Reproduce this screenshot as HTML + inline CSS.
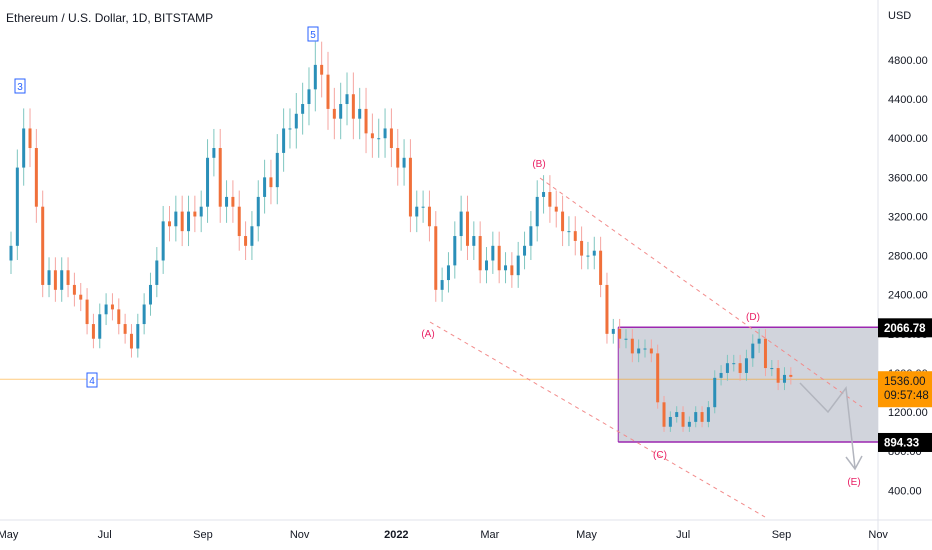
<!DOCTYPE html>
<html><head><meta charset="utf-8"><style>
body{margin:0;background:#fff;width:932px;height:550px;overflow:hidden;font-family:"Liberation Sans",sans-serif}
svg{display:block}
</style></head><body>
<svg id="chart" width="932" height="550">
<text x="6" y="22" font-size="12" fill="#131722">Ethereum / U.S. Dollar, 1D, BITSTAMP</text>
<line x1="878" y1="0" x2="878" y2="550" stroke="#e0e3eb"/>
<line x1="0" y1="520" x2="932" y2="520" stroke="#e0e3eb"/>
<text x="888" y="19" font-size="11" fill="#131722">USD</text>
<g id="yticks"></g><g id="xticks"></g>
<g id="box"></g>
<g id="candles"></g>
<g id="ann"></g>
</svg>
<script>
const closes=[2900,3700,4100,3900,3300,2500,2650,2450,2650,2500,2400,2350,2100,1950,2200,2300,2250,2100,2000,1850,2100,2300,2500,2750,3150,3100,3250,3050,3250,3200,3300,3800,3900,3300,3400,3300,3000,2900,3100,3400,3600,3500,3850,4100,4100,4250,4350,4500,4750,4650,4300,4200,4350,4450,4200,4300,4050,4000,4000,4100,3900,3700,3800,3200,3300,3300,3100,2450,2550,2700,3000,3250,2900,3000,2650,2750,2900,2650,2700,2600,2800,2900,3100,3400,3450,3300,3250,3050,3050,2950,2800,2800,2850,2500,2000,2050,1950,1950,1800,1850,1850,1800,1300,1050,1150,1200,1050,1100,1200,1100,1250,1550,1600,1700,1700,1600,1750,1900,1950,1650,1650,1500,1580,1560];
const firstOpen=2750;
const stepDays=4;
const yTicks=[400,800,1200,1600,2000,2400,2800,3200,3600,4000,4400,4800];
const yTickLabels=["400.00","800.00","1200.00","1600.00","2000.00","2400.00","2800.00","3200.00","3600.00","4000.00","4400.00","4800.00"];
const xTickDays=[0,61,123,184,245,304,365,426,488,549];
const xTickLabels=["May","Jul","Sep","Nov","2022","Mar","May","Jul","Sep","Nov"];
const boxTop=2066.78, boxBottom=894.33, lastPrice=1536.00;
const boxStartDay=385;
const NS="http://www.w3.org/2000/svg";
const y=v=>60+(4800-v)*0.0978;
const x=d=>8+d*1.585;
function mk(p,tag,at){const e=document.createElementNS(NS,tag);for(const k in at)e.setAttribute(k,at[k]);p.appendChild(e);return e;}
const yt=document.getElementById('yticks');
yTicks.forEach((v,i)=>{const t=mk(yt,'text',{x:888,y:y(v)+4,'font-size':11,fill:'#131722'});t.textContent=yTickLabels[i];

});
const xt=document.getElementById('xticks');
xTickDays.forEach((d,i)=>{const t=mk(xt,'text',{x:x(d),y:538,'font-size':11,fill:'#131722','text-anchor':'middle','font-weight':xTickLabels[i]==='2022'?'bold':'normal'});t.textContent=xTickLabels[i];

});
const bx=document.getElementById('box');
const r=mk(bx,'rect',{x:x(boxStartDay),y:y(boxTop),width:878-x(boxStartDay),height:y(boxBottom)-y(boxTop),fill:'#d1d4dc',stroke:'none'});


[boxTop,boxBottom].forEach(v=>{const l=mk(bx,'line',{x1:x(boxStartDay),x2:878,y1:y(v),y2:y(v),stroke:'#9c27b0','stroke-width':1.5});

});
const lv=mk(bx,'line',{x1:x(boxStartDay),x2:x(boxStartDay),y1:y(boxTop),y2:y(boxBottom),stroke:'#9c27b0','stroke-width':1});


const pl=mk(bx,'line',{x1:0,x2:878,y1:y(lastPrice),y2:y(lastPrice),stroke:'#ff9800','stroke-width':1,opacity:0.5});


const cg=document.getElementById('candles');
let o=firstOpen;
closes.forEach((c,i)=>{const cx=x(i*stepDays)+3;const up=c>=o;const col=up?'#2a8fb8':'#f0703a';
const hi=Math.max(o,c)*1.05, lo=Math.min(o,c)*0.95;
const w=mk(cg,'line',{x1:cx,x2:cx,y1:y(hi),y2:y(lo),stroke:up?'#7fc6c0':'#f5a5a0','stroke-width':1});


const top=y(Math.max(o,c)),h=Math.max(1,y(Math.min(o,c))-top);
const b=mk(cg,'rect',{x:cx-1.5,y:top,width:3,height:h,fill:col});


o=c;});
const an=document.getElementById('ann');
function dash(x1,y1,x2,y2){const l=mk(an,'line',{x1,y1,x2,y2,stroke:'#f28b8b','stroke-width':1,'stroke-dasharray':'4 4'});

}
dash(540,178,862,407);dash(430,322,765,517);
function lab(t,px,py){const e=mk(an,'text',{x:px,y:py,'font-size':10,fill:'#e91e63','text-anchor':'middle'});e.textContent=t;

}
lab('(A)',428,337);lab('(B)',539,167);lab('(C)',660,458);lab('(D)',753,320);lab('(E)',854,485);
function wbox(t,px,py){const r=mk(an,'rect',{x:px-5,y:py-8,width:10,height:14,fill:'#fff',stroke:'#2962ff','stroke-width':1});


const e=mk(an,'text',{x:px,y:py+3,'font-size':10,fill:'#2962ff','text-anchor':'middle'});e.textContent=t;

}
wbox('3',20,87);wbox('5',313,35);wbox('4',92,381);
const ar=mk(an,'polyline',{points:'800,383 828,412 846,388 855,468',fill:'none',stroke:'#b2b5be','stroke-width':1.5});


const ah=mk(an,'polyline',{points:'846,457 855,469 862,456',fill:'none',stroke:'#b2b5be','stroke-width':1.5});


function plab(v,txt){const yy=y(v);const r=mk(an,'rect',{x:878,y:yy-9,width:54,height:19,fill:'#000'});


const t=mk(an,'text',{x:884,y:yy+4.5,'font-size':11.5,fill:'#fff','font-weight':'bold'});t.textContent=txt;

}
plab(boxTop,'2066.78');
plab(boxBottom,'894.33');
(function(){const yy=y(lastPrice);const r=mk(an,'rect',{x:878,y:yy-8,width:54,height:36,fill:'#ff9800'});


['1536.00','09:57:48'].forEach((s,i)=>{const t=mk(an,'text',{x:884,y:yy+6+i*14,'font-size':11.5,fill:'#131722'});t.textContent=s;

});})();
</script>
</body></html>
